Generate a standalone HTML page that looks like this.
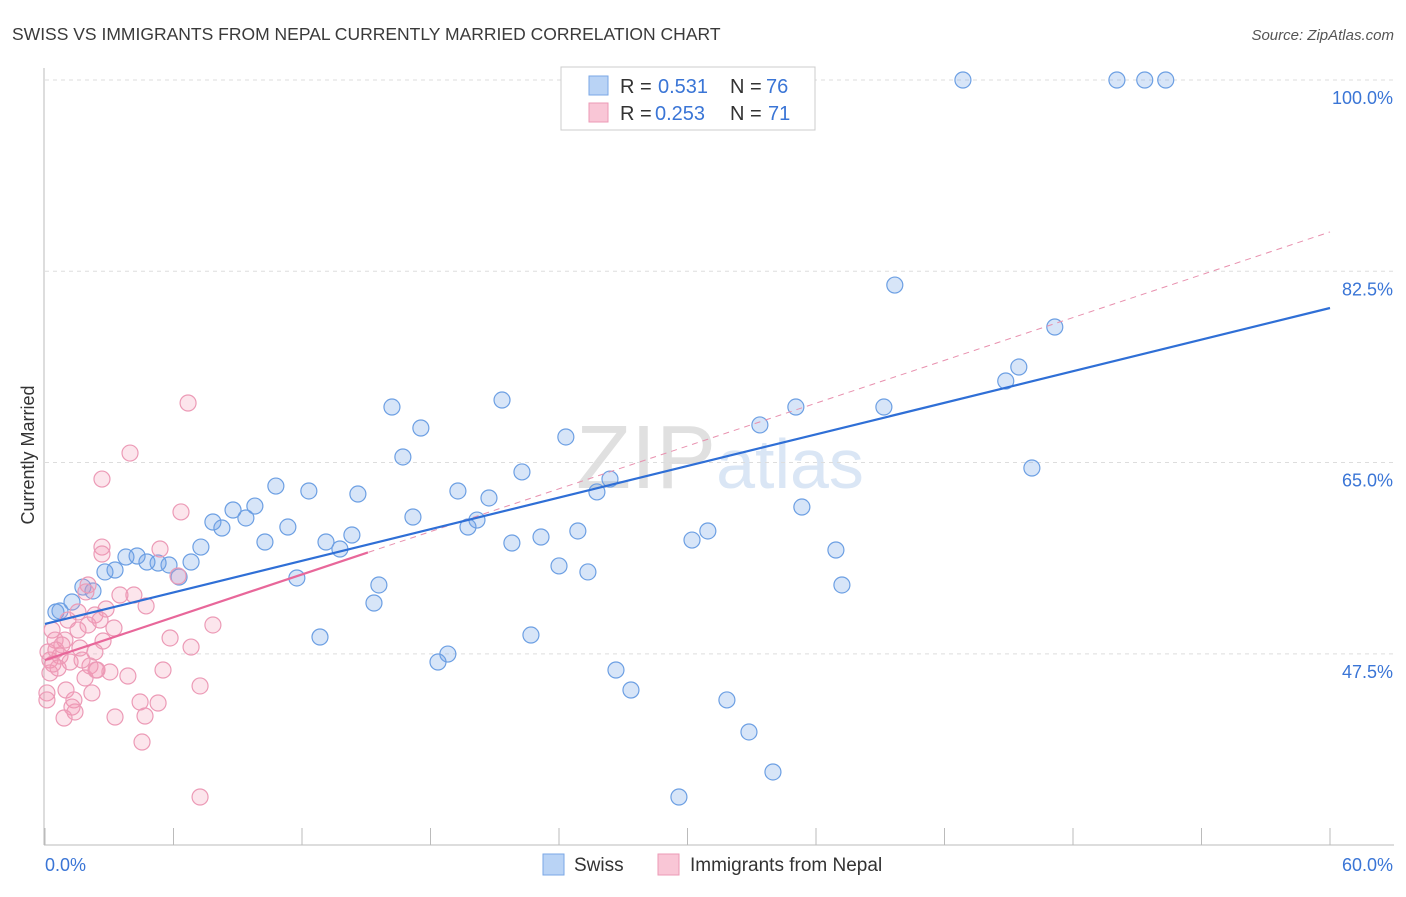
<!DOCTYPE html>
<html><head><meta charset="utf-8"><style>
body{margin:0;background:#fff;font-family:"Liberation Sans",sans-serif;}
svg text{font-family:"Liberation Sans",sans-serif;}
</style></head><body>
<svg id="chart" width="1406" height="892" xmlns="http://www.w3.org/2000/svg">
<text x="12" y="40" font-size="17.5" fill="#3a3a3a">SWISS VS IMMIGRANTS FROM NEPAL CURRENTLY MARRIED CORRELATION CHART</text>
<text x="1394" y="40" font-size="15" fill="#555" text-anchor="end" font-style="italic">Source: ZipAtlas.com</text>
<text x="34" y="455" font-size="18" fill="#333" text-anchor="middle" transform="rotate(-90 34 455)">Currently Married</text>
<text x="720" y="488" font-size="90" fill="#dde3ea" text-anchor="middle" font-family="Liberation Serif"><tspan fill="#e0e0e0">ZIP</tspan><tspan fill="#dae6f5" font-family="Liberation Sans" font-size="70">atlas</tspan></text>
<g id="grid"></g><g id="marks"></g>
<g>
<rect x="561" y="67" width="254" height="63" fill="#fff" stroke="#ccc"/>
<rect x="589" y="76" width="19" height="19" fill="#b9d3f5" stroke="#7aa7e6"/>
<text x="620" y="93" font-size="20" fill="#333">R =</text>
<text x="658" y="93" font-size="20" fill="#3a75d6">0.531</text>
<text x="730" y="93" font-size="20" fill="#333">N =</text>
<text x="766" y="93" font-size="20" fill="#3a75d6">76</text>
<rect x="589" y="103" width="19" height="19" fill="#f9c6d6" stroke="#ec9ab6"/>
<text x="620" y="120" font-size="20" fill="#333">R =</text>
<text x="655" y="120" font-size="20" fill="#3a75d6">0.253</text>
<text x="730" y="120" font-size="20" fill="#333">N =</text>
<text x="768" y="120" font-size="20" fill="#3a75d6">71</text>
</g>
<g>
<rect x="543" y="854" width="21" height="21" fill="#b9d3f5" stroke="#7aa7e6"/>
<text x="574" y="871" font-size="19" fill="#333">Swiss</text>
<rect x="658" y="854" width="21" height="21" fill="#f9c6d6" stroke="#ec9ab6"/>
<text x="690" y="871" font-size="19" fill="#333">Immigrants from Nepal</text>
</g>
</svg>
<script>
const yTicks=[100,82.5,65,47.5];
const yTickLabels=["100.0%","82.5%","65.0%","47.5%"];
const xTickLabels=["0.0%","60.0%"];
const swissX=[42.86,50.05,51.35,52.33,39.68,47.15,44.86,45.47,39.17,35.06,33.38,46.08,35.34,36.93,37.21,30.95,30.21,31.84,32.87,33.99,29.60,26.66,27.36,26.38,25.77,24.32,24.88,24.0,25.35,22.69,23.16,21.80,22.27,21.34,20.73,20.17,19.75,19.28,18.81,18.35,17.55,16.71,16.20,17.18,15.59,15.36,14.61,14.33,13.77,13.12,12.84,12.32,11.76,11.34,10.78,10.27,9.80,9.38,8.78,8.26,7.84,7.28,6.82,6.26,5.79,5.28,4.76,4.30,3.78,3.27,2.80,2.24,1.77,1.26,0.70,0.51];
const swissY=[100,100,100,100,81.24,77.40,72.46,73.74,70.08,70.08,68.44,64.50,60.93,57.0,53.80,58.74,57.91,43.28,40.35,36.69,34.40,46.02,44.19,63.49,62.31,67.34,58.74,55.54,54.99,49.22,58.19,57.64,64.14,70.72,61.76,59.74,59.10,62.40,47.48,46.75,68.16,65.51,70.08,60.02,53.80,52.15,62.12,58.37,57.09,57.73,49.04,62.40,54.44,59.10,62.85,57.73,61.02,59.93,60.66,59.01,59.56,57.27,55.90,54.53,55.63,55.81,55.90,56.45,56.36,55.17,54.99,53.25,53.61,52.24,51.42,51.33];
const nepalX=[6.68,3.97,2.66,6.35,2.66,2.66,5.37,6.21,2.01,1.91,2.85,4.15,4.72,2.33,1.54,7.84,3.22,0.33,1.07,2.01,5.84,2.71,6.82,0.47,0.93,1.63,2.33,0.70,0.23,1.17,2.10,2.43,3.03,3.87,5.51,1.87,0.23,0.61,0.98,0.09,2.19,7.24,1.35,4.44,5.28,0.09,1.40,1.26,0.89,3.27,4.67,4.53,7.24,0.37,0.14,0.79,0.51,1.73,2.38,1.54,2.57,3.50];
const nepalY=[70.45,65.87,63.49,60.48,57.27,56.63,57.09,54.62,53.80,53.16,51.60,52.88,51.88,51.05,51.33,50.14,49.86,49.68,50.59,50.14,48.95,48.67,48.12,48.76,48.76,48.03,47.67,47.30,46.93,46.75,46.39,46.02,45.84,45.47,46.02,45.29,45.75,46.20,44.19,43.92,43.92,44.56,43.28,43.09,43.00,43.28,42.18,42.63,41.63,41.72,41.81,39.43,34.40,46.57,47.67,48.31,47.85,46.93,46.02,49.68,50.59,52.88];
const swissTrend=[50.23,79.14];
const nepalTrend=[46.93,86.1];
const nepalSolidEnd=15.08;
const NS="http://www.w3.org/2000/svg";
const X=v=>45+v*(1285/60);
const Y=v=>80+(100-v)*10.93;
const grid=document.getElementById('grid'),marks=document.getElementById('marks');
function mk(t,a,p){const e=document.createElementNS(NS,t);for(const k in a)e.setAttribute(k,a[k]);p.appendChild(e);return e;}
let ax=mk('line',{x1:44,y1:68,x2:44,y2:845,stroke:'#bbb'},grid);


let bx=mk('line',{x1:44,y1:845,x2:1394,y2:845,stroke:'#bbb'},grid);


yTicks.forEach((t,i)=>{
 const g=mk('line',{x1:45,y1:Y(t),x2:1394,y2:Y(t),stroke:'#ddd','stroke-dasharray':'4,4'},grid);
 
 
 const l=mk('text',{x:1393,y:Y(t)+24,'font-size':18,fill:'#3a75d6','text-anchor':'end'},grid);
 l.textContent=yTickLabels[i];
 
 
});
for(let i=0;i<=10;i++){
 const t=mk('line',{x1:X(i*6),y1:828,x2:X(i*6),y2:845,stroke:'#bbb'},grid);
 
 
}
[[0,'start',45],[60,'end',1393]].forEach((d,i)=>{
 const l=mk('text',{x:d[2],y:871,'font-size':18,fill:'#3a75d6','text-anchor':d[1]},grid);
 l.textContent=xTickLabels[i];
 
 
});
swissX.forEach((x,i)=>{
 const c=mk('circle',{cx:X(x),cy:Y(swissY[i]),r:8,fill:'rgba(110,160,230,0.28)',stroke:'#6c9fe3','stroke-width':1.2},marks);
 
 
});
nepalX.forEach((x,i)=>{
 const c=mk('circle',{cx:X(x),cy:Y(nepalY[i]),r:8,fill:'rgba(245,150,180,0.25)',stroke:'#ec9ab6','stroke-width':1.2},marks);
 
 
});
const nv=x=>nepalTrend[0]+(nepalTrend[1]-nepalTrend[0])*x/60;
let d1=mk('line',{x1:X(0),y1:Y(nepalTrend[0]),x2:X(60),y2:Y(nepalTrend[1]),stroke:'#e890ae','stroke-width':1,'stroke-dasharray':'6,5'},marks);


let s1=mk('line',{x1:X(0),y1:Y(swissTrend[0]),x2:X(60),y2:Y(swissTrend[1]),stroke:'#2f6fd6','stroke-width':2.2},marks);


let p1=mk('line',{x1:X(0),y1:Y(nepalTrend[0]),x2:X(nepalSolidEnd),y2:Y(nv(nepalSolidEnd)),stroke:'#e8679a','stroke-width':2.2},marks);


</script>
</body></html>
